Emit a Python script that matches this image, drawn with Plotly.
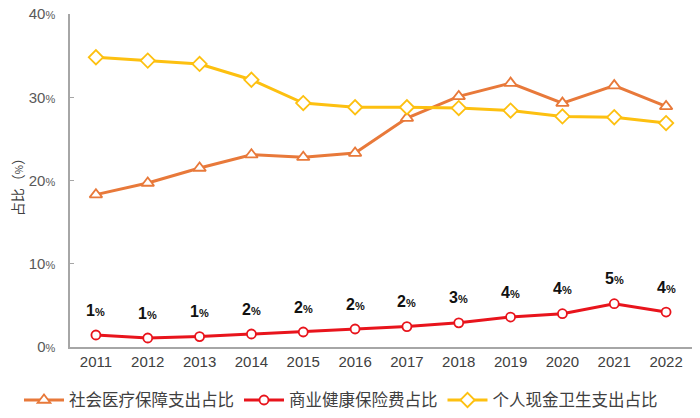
import plotly.graph_objects as go

years = ["2011", "2012", "2013", "2014", "2015", "2016", "2017", "2018", "2019", "2020", "2021", "2022"]
social = [18.3, 19.7, 21.5, 23.1, 22.8, 23.3, 27.5, 30.1, 31.7, 29.3, 31.4, 28.9]
commercial = [1.44, 1.08, 1.25, 1.56, 1.8, 2.16, 2.45, 2.9, 3.6, 4.0, 5.2, 4.2]
commercial_labels = ["1", "1", "1", "2", "2", "2", "2", "3", "4", "4", "5", "4"]
personal = [34.8, 34.4, 34.0, 32.1, 29.3, 28.8, 28.8, 28.7, 28.4, 27.7, 27.6, 26.9]
ytick_vals = [0, 10, 20, 30, 40]

names = ["社会医疗保障支出占比", "商业健康保险费占比", "个人现金卫生支出占比"]
colors = ["#E8793A", "#E8141C", "#FDC010"]

cjk = "Noto Sans CJK SC"
latin = "Liberation Sans, Arial"

fig = go.Figure()
fig.add_trace(go.Scatter(
    x=years, y=social, name=names[0], mode="lines+markers",
    line=dict(color=colors[0], width=3),
    marker=dict(symbol="triangle-up", size=11, color="white",
                line=dict(width=1.8, color=colors[0])),
))
fig.add_trace(go.Scatter(
    x=years, y=commercial, name=names[1], mode="lines+markers",
    line=dict(color=colors[1], width=3),
    marker=dict(symbol="circle", size=9, color="white",
                line=dict(width=1.8, color=colors[1])),
))
fig.add_trace(go.Scatter(
    x=years, y=personal, name=names[2], mode="lines+markers",
    line=dict(color=colors[2], width=3),
    marker=dict(symbol="diamond", size=11, color="white",
                line=dict(width=1.8, color=colors[2])),
))

for i, (v, lab) in enumerate(zip(commercial, commercial_labels)):
    fig.add_annotation(
        x=i, y=v, xref="x", yref="y",
        text=f"<b>{lab}<span style='font-size:11px'>%</span></b>",
        showarrow=False, yshift=25,
        font=dict(family=latin, size=16, color="#111111"),
    )

fig.add_annotation(
    x=-0.086, y=0.49, xref="paper", yref="paper",
    text="占比（<span style='font-size:10px'>%</span>）", textangle=-90,
    showarrow=False, xanchor="center", yanchor="middle",
    font=dict(family=cjk, size=14, color="#404040"),
)

# page has an 8px body margin: figure sized/offset to fit the 700x418 window
fig.update_layout(
    width=684, height=402,
    margin=dict(l=62, r=0, t=6, b=63, autoexpand=False),
    plot_bgcolor="white", paper_bgcolor="white",
    font=dict(family=f"{latin}, {cjk}", color="#595959"),
    showlegend=True,
    legend=dict(
        orientation="h", xref="paper", yref="paper",
        x=-0.082, xanchor="left", y=-0.16, yanchor="middle",
        font=dict(family=cjk, size=16.5, color="#404040"),
        itemwidth=40, tracegroupgap=0,
    ),
    xaxis=dict(
        type="category", range=[-0.5, len(years) - 0.5], automargin=False,
        showline=True, linecolor="#A6A6A6", linewidth=1.5,
        showgrid=False, ticks="", zeroline=False,
        tickfont=dict(family=latin, size=15, color="#404040"),
    ),
    yaxis=dict(
        range=[0, 40], tickvals=ytick_vals, automargin=False,
        ticktext=[f"{v}<span style='font-size:11px'>%</span>" for v in ytick_vals],
        showline=True, linecolor="#A6A6A6", linewidth=1.5,
        ticks="inside", ticklen=4, tickcolor="#A6A6A6",
        ticklabelstandoff=10, ticklabeloverflow="allow",
        showgrid=False, zeroline=False,
        tickfont=dict(family=latin, size=15, color="#595959"),
    ),
)

fig.write_html("out.html")
